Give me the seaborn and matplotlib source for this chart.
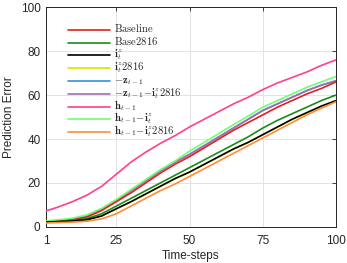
import numpy as np
import pandas as pd
import seaborn as sns
import matplotlib.pyplot as plt
import matplotlib.transforms as mtransforms

steps = [1, 5, 10, 15, 20, 25, 30, 35, 40, 45, 50, 55, 60, 65, 70, 75, 80, 85, 90, 95, 100]

baseline = [2.5, 2.8, 3.3, 4.5, 7.5, 11.5, 15.5, 20.0, 24.5, 28.5, 32.0, 36.0, 40.0, 44.0, 47.5, 51.0, 54.5, 57.5, 60.5, 63.0, 66.0]
base2816 = [2.3, 2.5, 3.0, 3.8, 6.0, 9.5, 13.0, 16.5, 20.0, 23.5, 27.0, 30.5, 34.0, 37.5, 41.0, 45.0, 48.5, 51.5, 54.5, 57.5, 60.0]
i_t = [2.2, 2.4, 2.7, 3.3, 5.0, 8.3, 11.5, 15.0, 18.5, 22.0, 25.0, 28.5, 32.0, 35.5, 38.5, 42.0, 45.5, 49.0, 52.0, 55.0, 57.5]
i_t2816 = [2.2, 2.4, 2.7, 3.3, 5.0, 8.2, 11.4, 14.9, 18.4, 21.9, 24.9, 28.4, 31.9, 35.4, 38.4, 41.9, 45.4, 48.9, 51.9, 54.9, 57.4]
z_t = [2.6, 2.9, 3.6, 5.0, 8.0, 12.0, 16.5, 21.0, 25.5, 29.5, 33.0, 37.0, 41.0, 45.0, 49.0, 53.0, 56.0, 59.0, 62.0, 64.5, 66.5]
z_i2816 = [2.6, 2.9, 3.6, 5.0, 8.0, 12.0, 16.5, 21.0, 25.5, 29.5, 33.0, 37.0, 41.0, 45.0, 49.0, 53.0, 56.0, 59.0, 62.0, 64.5, 66.5]
h_t = [7.3, 9.0, 11.5, 14.5, 18.5, 24.0, 29.5, 34.0, 38.0, 41.5, 45.5, 49.0, 52.5, 56.0, 59.0, 62.5, 65.5, 68.0, 70.5, 73.5, 76.0]
h_i = [2.8, 3.2, 4.0, 5.5, 8.5, 12.5, 17.0, 21.5, 26.0, 30.0, 34.5, 38.5, 42.5, 46.5, 50.5, 54.5, 57.5, 60.5, 63.5, 66.0, 68.5]
h_i2816 = [1.8, 2.0, 2.2, 2.6, 3.7, 6.0, 9.5, 13.0, 16.5, 19.5, 23.0, 26.5, 30.0, 33.5, 37.0, 40.5, 44.0, 47.5, 51.0, 54.0, 57.0]

labels = [r'$\mathrm{Baseline}$', r'$\mathrm{Base2816}$', r'$\mathbf{i}_t^z$', r'$\mathbf{i}_t^z\mathrm{2816}$',
          r'$-\mathbf{z}_{t-1}$', r'$-\mathbf{z}_{t-1}\!-\!\mathbf{i}_t^z\mathrm{2816}$', r'$\mathbf{h}_{t-1}$',
          r'$\mathbf{h}_{t-1}\!-\!\mathbf{i}_t^z$', r'$\mathbf{h}_{t-1}\!-\!\mathbf{i}_t^z\mathrm{2816}$']
series = [baseline, base2816, i_t, i_t2816, z_t, z_i2816, h_t, h_i, h_i2816]
colors = ['#e02020', '#1a8a1a', '#000000', '#e0e000', '#3090e0', '#a070b0', '#ff3f8f', '#70ff70', '#ff8c3c']
zorders = [5, 6, 8, 3, 3, 4, 7, 5, 9]

sns.set_style('white')
plt.rcParams['font.family'] = ['Liberation Sans', 'DejaVu Sans']
plt.rcParams['mathtext.fontset'] = 'cm'

fig = plt.figure(figsize=(3.47, 2.63), dpi=100)
ax = fig.add_axes([0.1326, 0.137, 0.836, 0.836])

for vals, c, z in zip(series, colors, zorders):
    df = pd.DataFrame({'step': steps, 'err': vals})
    sns.lineplot(data=df, x='step', y='err', color=c, lw=1.2, ax=ax, zorder=z)

ax.set_xlim(1, 100)
ax.set_ylim(0, 100)
ax.set_xticks([1, 25, 50, 75, 100])
ax.set_yticks([0, 20, 40, 60, 80, 100])
ax.grid(True, color='#e3e3e3', lw=0.7)
ax.set_axisbelow(True)
ax.tick_params(direction='in', length=3, width=0.6, labelsize=8.5, colors='#262626',
               top=True, right=True)
ax.tick_params(axis='x', pad=6)
ax.tick_params(axis='y', pad=4)
for s in ax.spines.values():
    s.set_color('#262626')
    s.set_linewidth(0.7)
ax.set_xlabel('Time-steps', fontsize=8.5, color='#262626', labelpad=2)
ax.set_ylabel('Prediction Error', fontsize=8.5, color='#262626', labelpad=4)

# legend drawn by hand so rows are evenly spaced (latex-like)
row0, drow = 0.897, 0.0583
x0, x1, xt = 0.076, 0.219, 0.233
txt_off = mtransforms.offset_copy(ax.transAxes, fig=fig, x=0, y=-2.3, units='dots')
for k, (lab, c) in enumerate(zip(labels, colors)):
    yk = row0 - k * drow
    ax.plot([x0, x1], [yk, yk], color=c, lw=1.2, transform=ax.transAxes, zorder=10)
    ax.text(xt, yk, lab, fontsize=7.6, va='baseline', ha='left', transform=txt_off, zorder=10)

fig.savefig('out.png', dpi=100)
